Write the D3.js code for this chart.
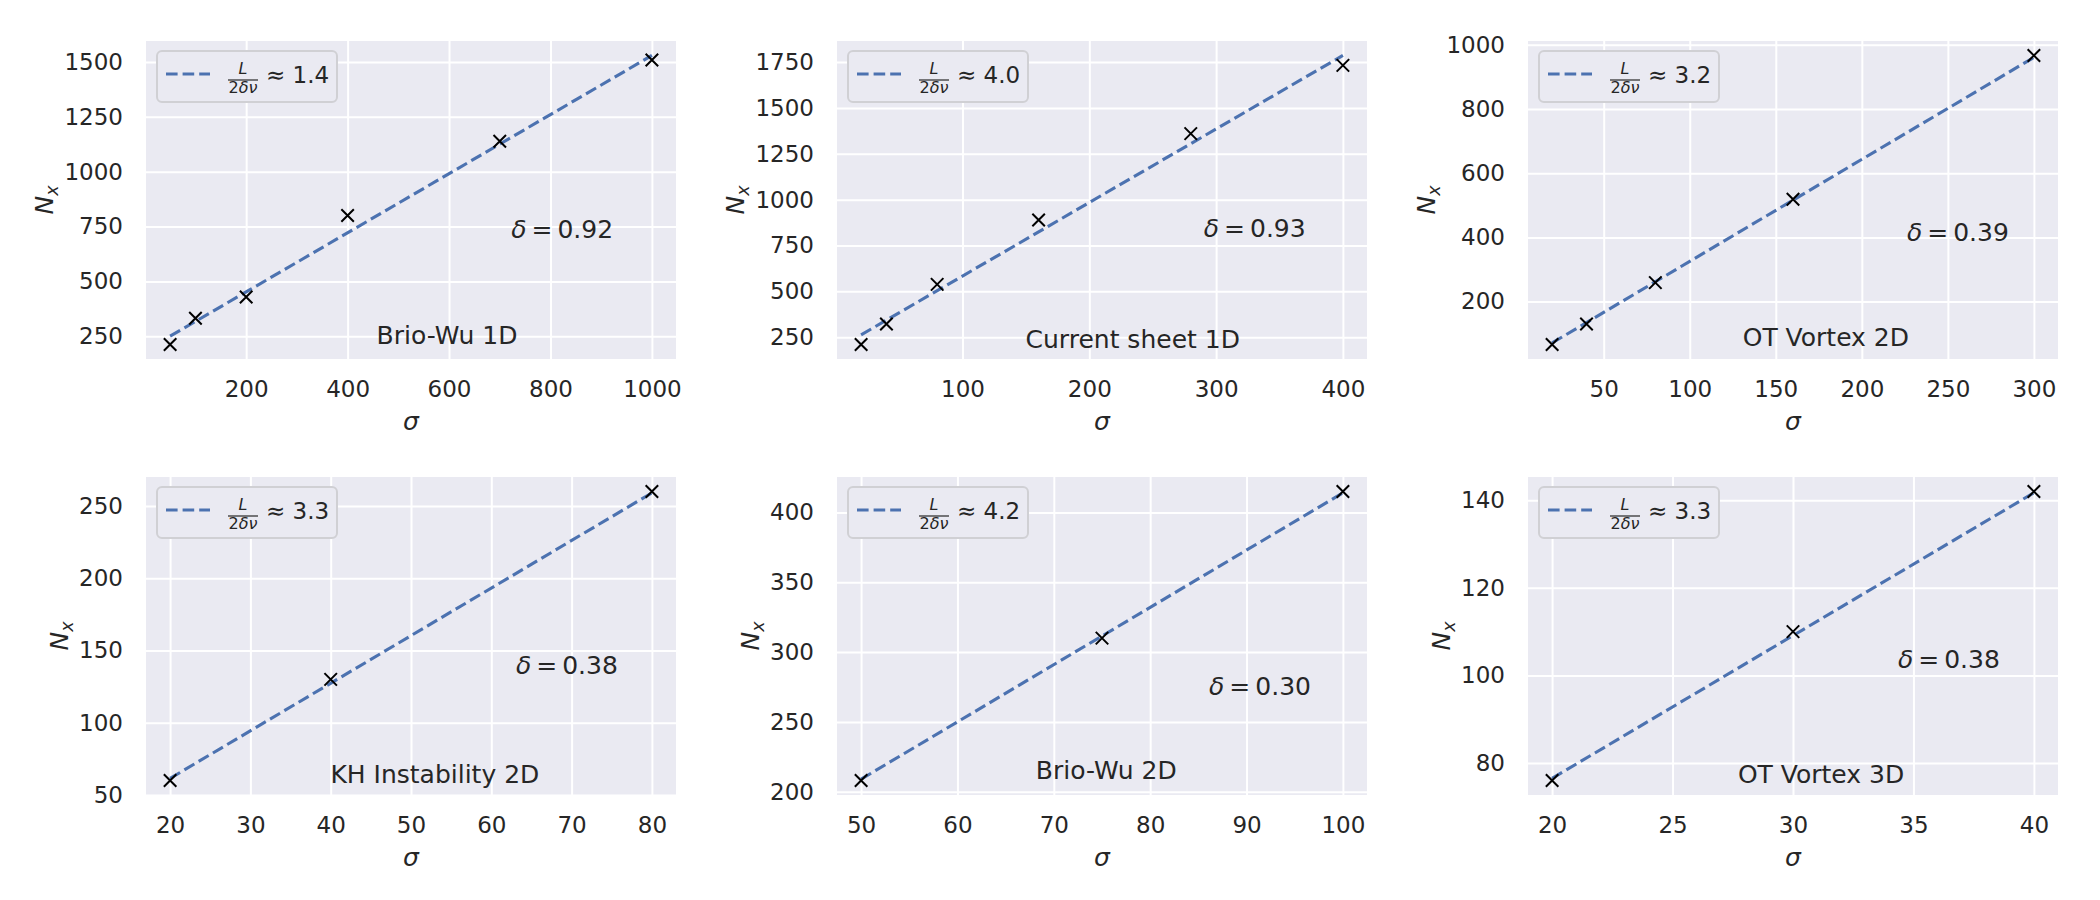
<!DOCTYPE html>
<html>
<head>
<meta charset="utf-8">
<script src="https://cdn.jsdelivr.net/npm/d3@7"></script>
<style>
  body { margin: 0; background: #fff; }
  svg { display: block; }
  text { font-family: "DejaVu Sans", sans-serif; fill: #262626; }
</style>
</head>
<body>
<div id="chart"></div>
<script>
// data
const panelNames = ["Brio-Wu 1D", "Current sheet 1D", "OT Vortex 2D", "KH Instability 2D", "Brio-Wu 2D", "OT Vortex 3D"];
const sigma = [
  [50, 100, 200, 400, 700, 1000],
  [20, 40, 80, 160, 280, 400],
  [20, 40, 80, 160, 300],
  [20, 40, 80],
  [50, 75, 100],
  [20, 30, 40]
];
const nx = [
  [212, 332, 429, 800, 1139, 1509],
  [210, 322, 538, 889, 1360, 1732],
  [66, 130, 259, 519, 967],
  [60, 130, 260],
  [208, 310, 415],
  [76, 110, 142]
];
// fitted line, value at first and last sigma
const fitNx = [
  [250, 1530],
  [263, 1786],
  [71, 961],
  [61.5, 259],
  [209, 414],
  [76.5, 141.7]
];
const slopeLabels = ["1.4", "4.0", "3.2", "3.3", "4.2", "3.3"];
const deltaLabels = ["0.92", "0.93", "0.39", "0.38", "0.30", "0.38"];
const xTicks = [
  [200, 400, 600, 800, 1000],
  [100, 200, 300, 400],
  [50, 100, 150, 200, 250, 300],
  [20, 30, 40, 50, 60, 70, 80],
  [50, 60, 70, 80, 90, 100],
  [20, 25, 30, 35, 40]
];
const yTicks = [
  [250, 500, 750, 1000, 1250, 1500],
  [250, 500, 750, 1000, 1250, 1500, 1750],
  [200, 400, 600, 800, 1000],
  [50, 100, 150, 200, 250],
  [200, 250, 300, 350, 400],
  [80, 100, 120, 140]
];

// layout (axes fractions for the text annotations)
const colLeft = [146, 837, 1528];
const rowTop = [41, 477];
const W = 530, H = 318;
const deltaPos = [[0.689, 0.591], [0.692, 0.588], [0.715, 0.600], [0.698, 0.591], [0.702, 0.657], [0.698, 0.572]];
const namePos = [[0.568, 0.925], [0.558, 0.937], [0.562, 0.931], [0.545, 0.934], [0.508, 0.921], [0.553, 0.934]];

const blue = "#4C72B0";

const svg = d3.select("#chart").append("svg")
  .attr("width", 2100)
  .attr("height", 900);

panelNames.forEach((name, i) => {
  const left = colLeft[i % 3], top = rowTop[Math.floor(i / 3)];
  const xs = sigma[i], ys = nx[i], fit = fitNx[i];

  const xMin = d3.min(xs), xMax = d3.max(xs);
  const xPad = (xMax - xMin) * 0.05;
  const allY = ys.concat(fit);
  const yMin = d3.min(allY), yMax = d3.max(allY);
  const yPad = (yMax - yMin) * 0.05;

  const x = d3.scaleLinear().domain([xMin - xPad, xMax + xPad]).range([0, W]);
  const y = d3.scaleLinear().domain([yMin - yPad, yMax + yPad]).range([H, 0]);

  const g = svg.append("g").attr("transform", `translate(${left},${top})`);

  g.append("rect")
    .attr("width", W)
    .attr("height", H)
    .attr("fill", "#EAEAF2");

  // axes + white grid
  const yAxis = g.append("g")
    .call(d3.axisLeft(y).tickValues(yTicks[i]).tickSize(-W).tickPadding(23).tickFormat(d3.format("d")));
  const xAxis = g.append("g")
    .attr("transform", `translate(0,${H})`)
    .call(d3.axisBottom(x).tickValues(xTicks[i]).tickSize(-H).tickPadding(22).tickFormat(d3.format("d")));
  [xAxis, yAxis].forEach(a => {
    a.select(".domain").remove();
    a.selectAll("line").attr("stroke", "#fff").attr("stroke-width", 2);
    a.selectAll("text").attr("font-size", 23).attr("fill", "#262626")
      .style("font-family", '"DejaVu Sans", sans-serif');
  });

  // fitted line
  g.append("line")
    .attr("x1", x(xs[0]))
    .attr("y1", y(fit[0]))
    .attr("x2", x(xs[xs.length - 1]))
    .attr("y2", y(fit[1]))
    .attr("stroke", blue)
    .attr("stroke-width", 3.1)
    .attr("stroke-dasharray", "11.6,5");

  // markers
  const m = 6.25;
  g.selectAll("path.mark")
    .data(xs.map((d, k) => [d, ys[k]]))
    .join("path")
    .attr("class", "mark")
    .attr("transform", d => `translate(${x(d[0])},${y(d[1])})`)
    .attr("d", `M${-m},${-m}L${m},${m}M${-m},${m}L${m},${-m}`)
    .attr("stroke", "#000")
    .attr("stroke-width", 2)
    .attr("fill", "none");

  // delta annotation
  const dt = g.append("text")
    .attr("x", deltaPos[i][0] * W)
    .attr("y", deltaPos[i][1] * H)
    .attr("dy", "0.35em")
    .attr("font-size", 25);
  dt.append("tspan").attr("font-style", "italic").text("δ");
  dt.append("tspan").attr("dx", 5).text("=");
  dt.append("tspan").attr("dx", 5).text(deltaLabels[i]);

  // case name
  g.append("text")
    .attr("x", namePos[i][0] * W)
    .attr("y", namePos[i][1] * H)
    .attr("dy", "0.35em")
    .attr("text-anchor", "middle")
    .attr("font-size", 25)
    .text(name);

  // x label
  g.append("text")
    .attr("x", W / 2)
    .attr("y", H + 71)
    .attr("text-anchor", "middle")
    .attr("font-size", 25)
    .attr("font-style", "italic")
    .text("σ");

  // y label, placed left of the widest tick label
  let labLeft = 0;
  yAxis.selectAll("text").each(function () {
    labLeft = Math.min(labLeft, this.getBBox().x);
  });
  const yl = g.append("text")
    .attr("transform", `translate(${labLeft - 11},${H / 2}) rotate(-90)`)
    .attr("text-anchor", "middle")
    .attr("font-size", 25);
  yl.append("tspan").attr("font-style", "italic").text("N");
  yl.append("tspan").attr("font-style", "italic").attr("font-size", 17.5).attr("dy", 5).text("x");

  // legend
  const lg = g.append("g").attr("transform", "translate(11,10)");
  lg.append("rect")
    .attr("width", 180)
    .attr("height", 51)
    .attr("rx", 5)
    .attr("fill", "#EAEAF2")
    .attr("stroke", "#d0d0d4")
    .attr("stroke-width", 2);
  lg.append("line")
    .attr("x1", 9).attr("x2", 53)
    .attr("y1", 23).attr("y2", 23)
    .attr("stroke", blue)
    .attr("stroke-width", 3.1)
    .attr("stroke-dasharray", "11.6,5");
  lg.append("text")
    .attr("x", 86).attr("y", 23)
    .attr("text-anchor", "middle")
    .attr("font-size", 16)
    .attr("font-style", "italic")
    .text("L");
  lg.append("line")
    .attr("x1", 71).attr("x2", 101)
    .attr("y1", 29).attr("y2", 29)
    .attr("stroke", "#262626")
    .attr("stroke-width", 1.2);
  const den = lg.append("text")
    .attr("x", 86).attr("y", 42)
    .attr("text-anchor", "middle")
    .attr("font-size", 16);
  den.append("tspan").text("2");
  den.append("tspan").attr("font-style", "italic").text("δν");
  lg.append("text")
    .attr("x", 109).attr("y", 32)
    .attr("font-size", 23)
    .text("≈ " + slopeLabels[i]);
});
</script>
</body>
</html>
